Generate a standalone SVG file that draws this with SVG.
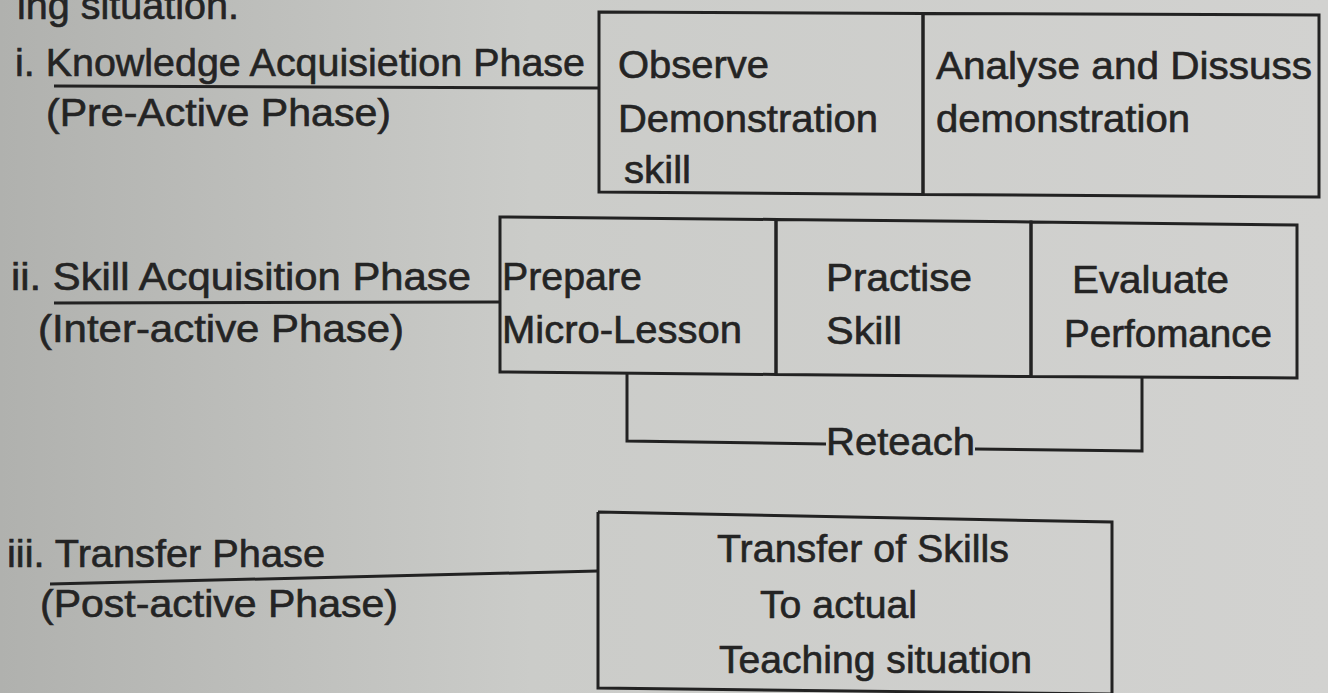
<svg xmlns="http://www.w3.org/2000/svg" width="1328" height="693" viewBox="0 0 1328 693">
  <defs>
    <linearGradient id="paper" x1="0" y1="0" x2="1" y2="0">
      <stop offset="0" stop-color="#b0b1ae"/>
      <stop offset="0.4" stop-color="#cbccc9"/>
      <stop offset="1" stop-color="#d2d2d0"/>
    </linearGradient>
    <style>
      text { font-family: "Liberation Sans", Arial, sans-serif; font-size: 38px; fill: #242424; stroke: #242424; stroke-width: 0.6; }
      .box { fill: none; stroke: #222; stroke-width: 3; stroke-linejoin: miter; }
      .ln { fill: none; stroke: #222; stroke-width: 3; }
    </style>
  </defs>

  <rect x="0" y="0" width="1328" height="693" fill="url(#paper)"/>

  <!-- trailing line of the preceding paragraph -->
  <text x="17" y="19" textLength="222" lengthAdjust="spacingAndGlyphs">ing situation.</text>

  <!-- phase labels -->
  <g id="phase-knowledge">
    <text x="15" y="76" textLength="570" lengthAdjust="spacingAndGlyphs">i. Knowledge Acquisietion Phase</text>
    <text x="46" y="126" textLength="345" lengthAdjust="spacingAndGlyphs">(Pre-Active Phase)</text>
  </g>
  <g id="phase-skill">
    <text x="11" y="290" textLength="460" lengthAdjust="spacingAndGlyphs">ii. Skill Acquisition Phase</text>
    <text x="38" y="342" textLength="366" lengthAdjust="spacingAndGlyphs">(Inter-active Phase)</text>
  </g>
  <g id="phase-transfer">
    <text x="7" y="567" textLength="318" lengthAdjust="spacingAndGlyphs">iii. Transfer Phase</text>
    <text x="40" y="617" textLength="358" lengthAdjust="spacingAndGlyphs">(Post-active Phase)</text>
  </g>

  <!-- phase i boxes -->
  <g id="box-observe">
    <path class="box" d="M599,12 L923,13.5 L923,194.5 L599,192 Z"/>
    <text x="618" y="78" textLength="151" lengthAdjust="spacingAndGlyphs">Observe</text>
    <text x="618" y="132" textLength="260" lengthAdjust="spacingAndGlyphs">Demonstration</text>
    <text x="624" y="183" textLength="67" lengthAdjust="spacingAndGlyphs">skill</text>
  </g>
  <g id="box-analyse">
    <path class="box" d="M923,13.5 L1319,15 L1319,197 L923,194.5 Z"/>
    <text x="936" y="79" textLength="376" lengthAdjust="spacingAndGlyphs">Analyse and Dissuss</text>
    <text x="936" y="132" textLength="254" lengthAdjust="spacingAndGlyphs">demonstration</text>
  </g>

  <!-- phase ii boxes -->
  <g id="box-prepare">
    <path class="box" d="M500,217 L776,219.5 L776,374.5 L500,372 Z"/>
    <text x="502" y="290" textLength="140" lengthAdjust="spacingAndGlyphs">Prepare</text>
    <text x="502" y="343" textLength="240" lengthAdjust="spacingAndGlyphs">Micro-Lesson</text>
  </g>
  <g id="box-practise">
    <path class="box" d="M776,219.5 L1031,222 L1031,376.5 L776,374.5 Z"/>
    <text x="826" y="291" textLength="146" lengthAdjust="spacingAndGlyphs">Practise</text>
    <text x="826" y="344" textLength="76" lengthAdjust="spacingAndGlyphs">Skill</text>
  </g>
  <g id="box-evaluate">
    <path class="box" d="M1031,222 L1297,225 L1297,378 L1031,376.5 Z"/>
    <text x="1072" y="293" textLength="157" lengthAdjust="spacingAndGlyphs">Evaluate</text>
    <text x="1064" y="347" textLength="208" lengthAdjust="spacingAndGlyphs">Perfomance</text>
  </g>

  <!-- phase iii box -->
  <g id="box-transfer">
    <path class="box" d="M598,512 L1112,522 L1112,695 M598,512 L598,688 L1112,694"/>
    <text x="717" y="562" textLength="292" lengthAdjust="spacingAndGlyphs">Transfer of Skills</text>
    <text x="760" y="618" textLength="157" lengthAdjust="spacingAndGlyphs">To actual</text>
    <text x="719" y="673" textLength="313" lengthAdjust="spacingAndGlyphs">Teaching situation</text>
  </g>

  <!-- connectors -->
  <g id="connectors">
    <line class="ln" x1="54" y1="86" x2="599" y2="88"/>
    <line class="ln" x1="54" y1="303" x2="500" y2="302"/>
    <line class="ln" x1="50" y1="584" x2="598" y2="571"/>
    <!-- reteach loop from Evaluate back to Prepare -->
    <polyline class="ln" points="627,373 627,441 826,444"/>
    <polyline class="ln" points="975,449 1142,451 1142,377"/>
    <text x="826" y="455" textLength="149" lengthAdjust="spacingAndGlyphs">Reteach</text>
  </g>
</svg>
